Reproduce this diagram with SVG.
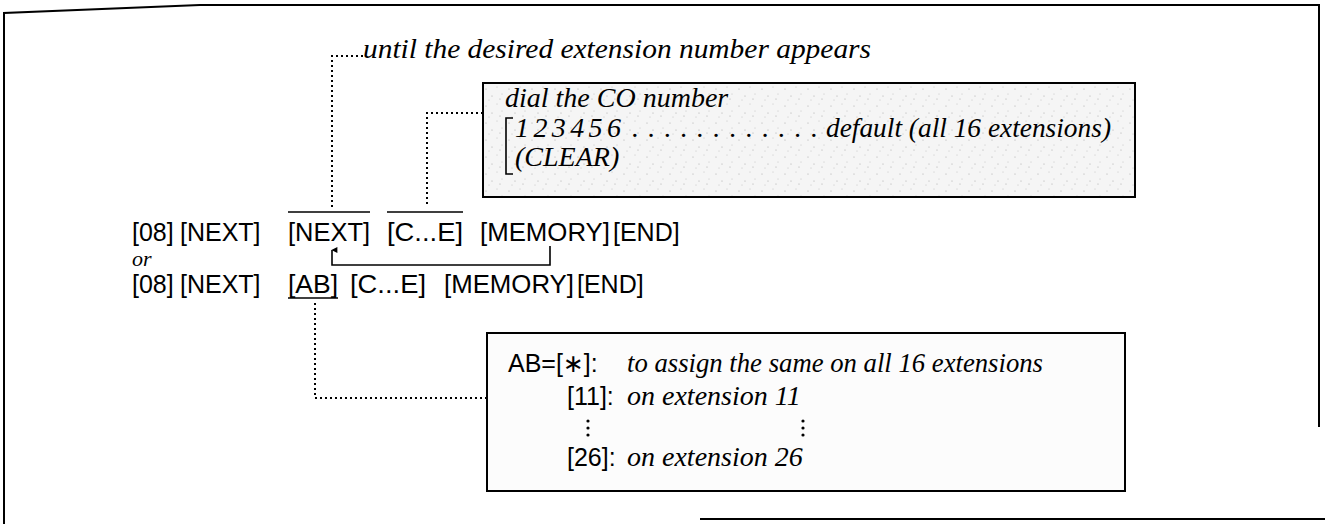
<svg xmlns="http://www.w3.org/2000/svg" width="1325" height="524" viewBox="0 0 1325 524">
<defs>
<style>
.frame{fill:none;stroke:#000;stroke-width:2}
.box{stroke:#000;stroke-width:2}
.dot{fill:none;stroke:#000;stroke-width:2;stroke-dasharray:2 3}
.ln{fill:none;stroke:#000;stroke-width:1.6}
.it{font-family:"Liberation Serif",serif;font-style:italic;font-size:28px;fill:#000}
.sa{font-family:"Liberation Sans",sans-serif;font-size:25px;fill:#000}
</style>
<marker id="arr" viewBox="0 0 10 10" refX="5" refY="1" markerWidth="6" markerHeight="8" orient="auto-start-reverse" markerUnits="userSpaceOnUse">
<path d="M0,10 L5,0 L10,10 Z" fill="#000"/>
</marker>
<pattern id="speck" width="23" height="17" patternUnits="userSpaceOnUse">
<rect width="23" height="17" fill="#f5f5f5"/>
<circle cx="3" cy="4" r="0.6" fill="#aaa"/>
<circle cx="14" cy="2" r="0.5" fill="#bbb"/>
<circle cx="9" cy="11" r="0.6" fill="#aaa"/>
<circle cx="19" cy="9" r="0.5" fill="#bbb"/>
<circle cx="6" cy="15" r="0.5" fill="#bbb"/>
<circle cx="17" cy="14" r="0.6" fill="#aaa"/>
</pattern>
</defs>

<g id="frame">
<path class="frame" d="M4,524 V13 L200,5 H1319 V427"/>
<path class="frame" d="M700,519 H1325"/>
</g>

<g id="connectors">
<path class="dot" d="M363,56 H332 V207"/>
<path class="dot" d="M483,113 H427 V206"/>
<path class="dot" d="M487,398 H315 V300"/>
<path class="ln" d="M550,246 V265 H332 V250" marker-end="url(#arr)"/>
<path class="ln" d="M288,212 H370 M387,212 H463"/>
<path class="ln" d="M288,298 H338"/>
</g>

<g id="note-until">
<text class="it" x="363" y="58" textLength="508" lengthAdjust="spacingAndGlyphs">until the desired extension number appears</text>
</g>

<g id="box-co">
<rect class="box" x="483" y="83" width="652" height="114" fill="url(#speck)"/>
<text class="it" x="505" y="107">dial the CO number</text>
<path class="ln" d="M513,118 H506 V174 H513"/>
<text class="it" x="515" y="137" textLength="106" lengthAdjust="spacing">1 2 3 4 5 6</text>
<text class="it" x="632" y="137" textLength="186" lengthAdjust="spacing">. . . . . . . . . . . .</text>
<text class="it" x="826" y="137" textLength="285" lengthAdjust="spacingAndGlyphs">default (all 16 extensions)</text>
<text class="it" x="515" y="166">(CLEAR)</text>
</g>

<g id="row1">
<text class="sa" x="132" y="241">[08]</text>
<text class="sa" x="180" y="241">[NEXT]</text>
<text class="sa" x="288" y="241" textLength="82" lengthAdjust="spacingAndGlyphs">[NEXT]</text>
<text class="sa" x="387" y="241" textLength="76" lengthAdjust="spacingAndGlyphs">[C...E]</text>
<text class="sa" x="480" y="241" textLength="130" lengthAdjust="spacingAndGlyphs">[MEMORY]</text>
<text class="sa" x="613" y="241">[END]</text>
</g>

<g id="or">
<text class="it" x="132" y="266" style="font-size:22px">or</text>
</g>

<g id="row3">
<text class="sa" x="132" y="293">[08]</text>
<text class="sa" x="180" y="293">[NEXT]</text>
<text class="sa" x="288" y="293" textLength="50" lengthAdjust="spacingAndGlyphs">[AB]</text>
<text class="sa" x="350" y="293" textLength="76" lengthAdjust="spacingAndGlyphs">[C...E]</text>
<text class="sa" x="444" y="293" textLength="130" lengthAdjust="spacingAndGlyphs">[MEMORY]</text>
<text class="sa" x="577" y="293">[END]</text>
</g>

<g id="box-ab">
<rect class="box" x="487" y="333" width="638" height="158" fill="#fcfcfc"/>
<text class="sa" x="508" y="372">AB=[<tspan style="font-family:'DejaVu Sans',sans-serif">∗</tspan>]:</text>
<text class="it" x="627" y="372" textLength="416" lengthAdjust="spacingAndGlyphs">to assign the same on all 16 extensions</text>
<text class="sa" x="567" y="405">[11]:</text>
<text class="it" x="627" y="405">on extension 11</text>
<circle cx="588" cy="421" r="1.6"/><circle cx="588" cy="428" r="1.6"/><circle cx="588" cy="435" r="1.6"/>
<circle cx="803" cy="421" r="1.6"/><circle cx="803" cy="428" r="1.6"/><circle cx="803" cy="435" r="1.6"/>
<text class="sa" x="567" y="466">[26]:</text>
<text class="it" x="627" y="466">on extension 26</text>
</g>
</svg>
